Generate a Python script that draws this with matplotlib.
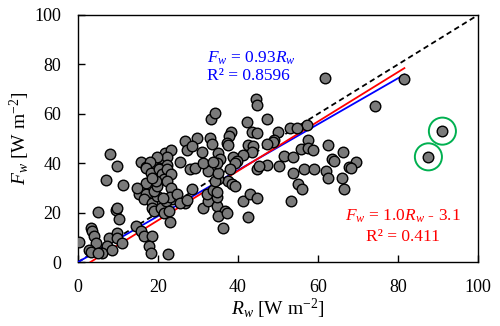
import matplotlib
matplotlib.use("Agg")
import matplotlib.pyplot as plt
import numpy as np

plt.rcParams['font.family'] = ['Liberation Serif', 'DejaVu Serif']
plt.rcParams['mathtext.fontset'] = 'custom'
plt.rcParams['mathtext.rm'] = 'Liberation Serif'
plt.rcParams['mathtext.it'] = 'Liberation Serif:italic'

# measured points (R_w, F_w)
pts = [
    (81.6, 74.1), (61.8, 74.4), (74.3, 63.3), (44.4, 66.0), (44.7, 63.6),
    (33.3, 57.9), (34.3, 60.3), (42.2, 56.8), (47.2, 57.9), (57.3, 55.5),
    (53.0, 54.1), (54.7, 54.1),
    (49.9, 52.8), (38.3, 52.5), (37.8, 51.0), (43.4, 52.8), (44.8, 52.1),
    (49.1, 49.4), (48.7, 48.7), (57.4, 49.4), (55.8, 45.7), (57.4, 46.0),
    (58.7, 45.3), (62.4, 47.4), (66.2, 44.4), (63.5, 41.7), (64.1, 41.0),
    (69.5, 40.6), (67.8, 38.6), (51.6, 42.9), (53.7, 42.6), (50.3, 38.9),
    (26.8, 49.1), (27.2, 45.3), (29.7, 50.1), (28.4, 47.0), (33.0, 50.1),
    (33.4, 47.8), (30.9, 44.7), (37.2, 48.0), (37.6, 47.4), (35.1, 44.0),
    (35.5, 41.6), (42.6, 47.4), (43.8, 47.0), (43.4, 44.7), (41.3, 43.3),
    (38.8, 42.6), (39.7, 41.0), (39.3, 40.0), (47.2, 47.8),
    (8.0, 43.7), (9.7, 39.0), (15.7, 40.6), (17.0, 38.6), (19.4, 39.5),
    (20.8, 38.6), (21.1, 42.0), (21.7, 44.0), (23.2, 45.3), (22.3, 42.6),
    (19.7, 42.6), (18.0, 40.6), (22.2, 39.3), (25.5, 40.6), (20.1, 35.9),
    (16.9, 38.2), (18.2, 36.2), (20.3, 37.5), (21.1, 35.5), (21.5, 33.5),
    (22.3, 37.5), (23.2, 35.5), (22.3, 32.8), (23.2, 30.1), (23.6, 25.4),
    (16.1, 29.4), (15.3, 27.4), (16.9, 27.4), (16.5, 25.4), (18.6, 24.0),
    (18.6, 22.0), (19.0, 20.6), (20.7, 22.0), (21.9, 24.7), (21.5, 20.0),
    (22.8, 20.6), (19.8, 26.7), (19.0, 28.7), (19.8, 30.8), (19.4, 32.8),
    (16.9, 32.1), (18.6, 34.1), (14.7, 29.8), (23.0, 26.4), (21.3, 25.8),
    (7.1, 33.1), (11.3, 31.2), (5.1, 20.4), (9.4, 21.0), (9.8, 22.0),
    (10.3, 17.3), (14.4, 14.6), (15.7, 12.5), (16.5, 10.5), (18.6, 10.5),
    (17.8, 6.5), (18.2, 3.8), (22.6, 3.2), (3.2, 13.9), (3.6, 12.6),
    (4.0, 10.5), (4.4, 7.6), (2.8, 5.1), (3.2, 4.0), (0.3, 8.1),
    (7.8, 9.8), (9.7, 11.9), (9.8, 9.8), (11.1, 7.8), (7.3, 6.5),
    (6.1, 3.8), (8.6, 5.1), (5.1, 3.5), (23.0, 16.3),
    (28.4, 29.4), (26.8, 24.0), (31.3, 22.0), (32.6, 24.7), (32.2, 27.4),
    (34.7, 22.7), (36.8, 20.6), (35.1, 18.6), (36.3, 13.9), (37.2, 20.0),
    (41.3, 24.7), (43.0, 27.4), (44.7, 26.0), (42.6, 18.2), (24.7, 27.4),
    (25.5, 24.0), (34.7, 26.2), (33.8, 29.1), (34.7, 28.5), (27.2, 25.1),
    (28.0, 37.5), (29.3, 38.2), (32.6, 36.8), (38.0, 37.5), (37.6, 32.8),
    (38.4, 31.5), (39.3, 30.8), (35.1, 33.5), (34.3, 32.8), (35.1, 35.9),
    (34.7, 40.0), (31.3, 40.0), (33.8, 40.6),
    (53.7, 36.2), (56.6, 37.8), (59.1, 37.5), (62.0, 36.8), (62.4, 34.1),
    (66.0, 34.1), (68.3, 38.2), (66.6, 29.4), (54.9, 31.5), (56.0, 29.7),
    (53.3, 24.7), (47.2, 39.3), (44.7, 37.5), (45.3, 38.8),
]
outliers_rw = [91.1, 87.6]
outliers_fw = [53.0, 42.6]

rw = np.array([p[0] for p in pts] + outliers_rw)
fw = np.array([p[1] for p in pts] + outliers_fw)

fit_all = (0.93, 0.0)     # F_w = 0.93 R_w
fit_sub = (1.0, -3.1)     # F_w = 1.0 R_w - 3.1

fig = plt.figure(figsize=(5.0, 3.26), dpi=100)
ax = fig.add_axes([0.156, 0.196, 0.80, 0.758])

ax.plot([0, 100], [0, 100], color='black', ls='--', lw=1.3, dashes=(3, 2), zorder=2)
xs = np.array([0, 81.6])
ax.plot(xs, fit_all[0] * xs + fit_all[1], color='blue', lw=1.3, zorder=3)
xs = np.array([3.1, 81.6])
ax.plot(xs, fit_sub[0] * xs + fit_sub[1], color='red', lw=1.3, zorder=3)

ax.scatter(rw, fw, s=58, c='#7a7a7a', edgecolors='black', linewidths=1.0, zorder=4)
ax.scatter(outliers_rw, outliers_fw, s=380, facecolors='none',
           edgecolors='#00b050', linewidths=1.4, zorder=5)

ax.text(32.2, 82.5, r'$F_w$ = 0.93$R_w$', color='blue', fontsize=12.5, va='center')
ax.text(32.2, 75.5, 'R² = 0.8596', color='blue', fontsize=12.5, va='center')
ax.text(81.2, 18.6, r'$F_w$ = 1.0$R_w$ - 3.1', color='red', fontsize=12.5,
        ha='center', va='center')
ax.text(81.2, 10.3, 'R² = 0.411', color='red', fontsize=12.5, ha='center', va='center')

ax.set_xlim(0, 100)
ax.set_ylim(0, 100)
ax.set_xticks(np.arange(0, 101, 20))
ax.set_yticks(np.arange(0, 101, 20))
ax.tick_params(direction='in', length=5, width=1, labelsize=13, pad=12)
for s in ax.spines.values():
    s.set_linewidth(1.0)

ax.set_xlabel(r'$R_w$ [W m$^{\mathregular{-2}}$]', fontsize=14, labelpad=1)
ax.set_ylabel(r'$F_w$ [W m$^{\mathregular{-2}}$]', fontsize=14, labelpad=2)

fig.savefig('out.png', dpi=100)
